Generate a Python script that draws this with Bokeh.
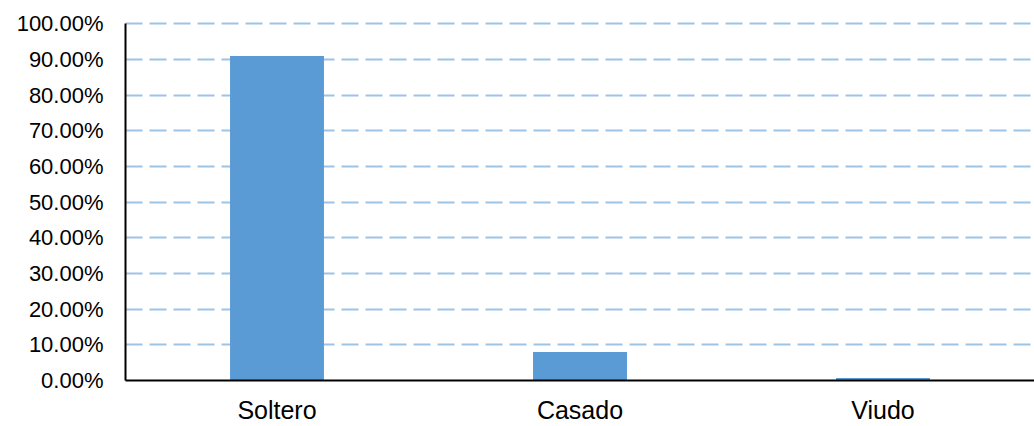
from bokeh.plotting import figure
from bokeh.models import Range1d, FixedTicker, NumeralTickFormatter, ColumnDataSource
from bokeh.embed import file_html
from bokeh.resources import INLINE

categories = ["Soltero", "Casado", "Viudo"]
shares = [0.909, 0.080, 0.007]
y_ticks = [0.0, 0.1, 0.2, 0.3, 0.4, 0.5, 0.6, 0.7, 0.8, 0.9, 1.0]

xs = list(range(len(categories)))
src = ColumnDataSource(dict(x=xs, top=shares))

p = figure(width=1034, height=426, output_backend="svg", toolbar_location=None,
           x_range=Range1d(-0.5, 2.5), y_range=Range1d(0, 1.006),
           min_border_left=125, min_border_top=21, min_border_bottom=45, min_border_right=0)
p.outline_line_color = None
p.background_fill_color = "white"
p.border_fill_color = "white"

p.vbar(x="x", top="top", bottom=0, width=0.31, source=src,
       fill_color="#5B9BD5", line_color=None)

font = "Liberation Sans"
p.yaxis.ticker = FixedTicker(ticks=y_ticks)
p.yaxis.formatter = NumeralTickFormatter(format="0.00%")
p.yaxis.major_label_text_font = font
p.yaxis.major_label_text_font_size = "22px"
p.yaxis.major_label_text_color = "black"
p.yaxis.major_tick_line_color = None
p.yaxis.minor_tick_line_color = None
p.yaxis.major_tick_out = 0
p.yaxis.major_label_standoff = 22
p.yaxis.axis_line_color = "black"
p.yaxis.axis_line_width = 2
p.yaxis.bounds = (0, 1)

p.xaxis.ticker = FixedTicker(ticks=xs)
p.xaxis.major_label_overrides = {i: c for i, c in enumerate(categories)}
p.xaxis.major_label_text_font = font
p.xaxis.major_label_text_font_size = "25px"
p.xaxis.major_label_text_color = "black"
p.xaxis.major_tick_line_color = None
p.xaxis.minor_tick_line_color = None
p.xaxis.major_tick_out = 0
p.xaxis.major_label_standoff = 15
p.xaxis.axis_line_color = "black"
p.xaxis.axis_line_width = 2

p.xgrid.grid_line_color = None
p.ygrid.ticker = FixedTicker(ticks=y_ticks[1:])
p.ygrid.grid_line_color = "#9DC3E6"
p.ygrid.grid_line_width = 2
p.ygrid.grid_line_dash = "17 7"

open("out.html", "w").write(file_html(p, INLINE))
